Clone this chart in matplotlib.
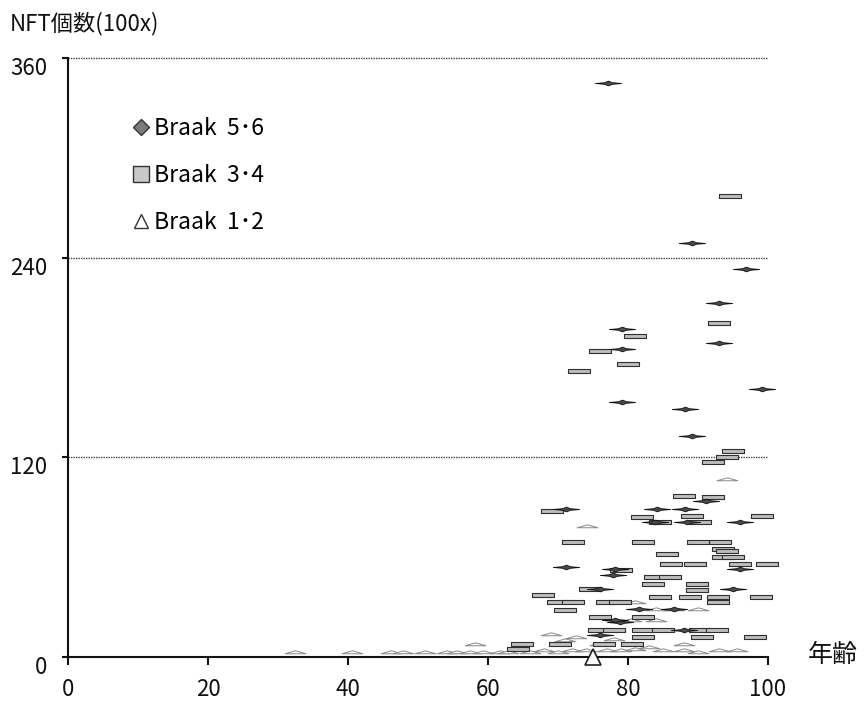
import matplotlib
matplotlib.use("Agg")
import matplotlib.pyplot as plt
from matplotlib.path import Path
from matplotlib.lines import Line2D
import matplotlib.transforms as mtransforms

plt.rcParams['font.family'] = ['Noto Sans CJK JP', 'DejaVu Sans']

# ---- data (age, NFT count /100x) ----
b56_age = [77.1, 89.1, 96.9, 93.0, 79.1, 93.0, 79.1, 99.1, 79.1, 88.1, 89.2, 91.2,
           71.2, 84.1, 88.1, 83.9, 88.4, 96.0, 71.2, 78.1, 96.0, 77.9, 76.0, 95.0,
           81.5, 86.5, 78.9, 76.0, 88.0, 78.1]
b56_nft = [345, 249, 233, 213, 197, 189, 185, 161, 153, 149, 133, 94,
           89, 89, 89, 81, 81, 81, 54, 53, 53, 49, 41, 41,
           29, 29, 21, 13, 16, 22]

b34_age = [76.0, 80.0, 73.0, 95.0, 94.1, 92.1, 69.1, 82.0, 84.5, 90.3, 93.6, 93.6,
           86.2, 89.6, 96.0, 99.8, 79.0, 83.9, 86.0, 83.6, 89.8, 74.6, 84.6, 88.9,
           92.9, 99.0, 70.0, 72.2, 77.0, 78.9, 92.9, 71.0, 76.0, 82.2, 75.8, 78.0,
           82.2, 85.0, 90.3, 92.7, 82.2, 90.5, 98.1, 70.3, 64.8, 95.0, 94.1, 89.8,
           76.5, 80.5, 64.3, 94.6, 93.0, 81.0, 92.2, 99.1, 89.1, 72.2, 82.2, 90.0,
           93.1, 67.9, 85.5, 88.0]
b34_nft = [184, 176, 172, 124, 120, 96, 88, 84, 81, 81, 65, 60,
           56, 56, 56, 56, 52, 48, 48, 44, 44, 41, 36, 36,
           36, 36, 33, 33, 33, 33, 33, 28, 24, 24, 16, 16,
           16, 16, 16, 16, 12, 12, 12, 8, 8, 60, 64, 40,
           8, 8, 5, 277, 201, 193, 117, 85, 85, 69, 69, 69,
           69, 37, 62, 97]

b12_age = [32.4, 40.5, 46.2, 47.9, 51.0, 54.1, 55.5, 57.4, 58.1, 59.3, 61.7, 62.9,
           66.0, 68.0, 70.0, 72.0, 74.0, 77.0, 79.0, 81.0, 83.0, 85.0, 88.0, 90.0,
           93.0, 95.5, 69.0, 71.0, 72.5, 74.1, 94.1, 84.0, 86.6, 90.0, 80.4, 84.0,
           78.0, 81.0, 76.0, 88.0]
b12_nft = [3, 3, 3, 3, 3, 3, 3, 3, 8, 3, 3, 3,
           3, 4, 3, 4, 4, 4, 4, 5, 6, 4, 4, 3,
           4, 4, 14, 10, 12, 79, 107, 29, 29, 29, 22, 22,
           11, 33, 8, 8]

highlight_age = [75.0]
highlight_nft = [0]

# ---- markers (horizontally stretched, like the scanned original) ----
diamond_path = Path([(-1, 0), (-0.3, 0.06), (0, 0.18), (0.3, 0.06), (1, 0),
                     (0.3, -0.06), (0, -0.18), (-0.3, -0.06), (-1, 0)], closed=True)
square_path = Path([(-1, -0.16), (1, -0.16), (1, 0.16), (-1, 0.16), (-1, -0.16)], closed=True)
tri_path = Path([(-1, -0.12), (1, -0.12), (0, 0.16), (-1, -0.12)], closed=True)

W, H = 867, 708
fig = plt.figure(figsize=(W / 100, H / 100), dpi=100)
ax = fig.add_axes([68 / W, 1 - 657 / H, 700 / W, 599 / H])

ax.set_xlim(0, 100)
ax.set_ylim(0, 360)

for yv in [120, 240, 360]:
    ax.axhline(yv, color='#444444', lw=1.0, ls=(0, (1, 0.8)), clip_on=False, zorder=1)

ax.plot(b12_age, b12_nft, ls='none', marker=tri_path, ms=15, mfc='white',
        mec='#8a8a8a', mew=0.7, zorder=3, clip_on=False)
ax.plot(b34_age, b34_nft, ls='none', marker=square_path, ms=16, mfc='#bdbdbd',
        mec='#303030', mew=0.8, zorder=4, clip_on=False)
ax.plot(b56_age, b56_nft, ls='none', marker=diamond_path, ms=19, mfc='#4a4a4a',
        mec='#111111', mew=0.6, zorder=5, clip_on=False)
ax.plot(highlight_age, highlight_nft, ls='none', marker='^', ms=12, mfc='white',
        mec='#222222', mew=1.2, zorder=6, clip_on=False)

for s in ['top', 'right']:
    ax.spines[s].set_visible(False)
for s in ['left', 'bottom']:
    ax.spines[s].set_linewidth(1.5)
    ax.spines[s].set_color('#111111')
    ax.spines[s].set_zorder(2)

ax.set_xticks([0, 20, 40, 60, 80, 100])
ax.set_yticks([0, 120, 240, 360])
ax.tick_params(axis='x', direction='out', length=6, width=1.5, pad=9, labelsize=16, colors='#111111')
ax.tick_params(axis='y', direction='out', length=4, width=1.5, pad=11, labelsize=16, colors='#111111')
offset = mtransforms.ScaledTranslation(0, -8 / 100, fig.dpi_scale_trans)
for lab in ax.get_yticklabels():
    lab.set_transform(lab.get_transform() + offset)

fig.text(10 / W, 1 - 24 / H, 'NFT個数(100x)', fontsize=16, ha='left', va='center', color='#111111')
fig.text(808 / W, 1 - 655 / H, '年齢', fontsize=18, ha='left', va='center', color='#111111')

# legend
handles = [
    Line2D([], [], ls='none', marker='D', ms=8, mfc='#7a7a7a', mec='#333333', mew=1.0),
    Line2D([], [], ls='none', marker='s', ms=11, mfc='#c8c8c8', mec='#333333', mew=1.0),
    Line2D([], [], ls='none', marker='^', ms=10, mfc='white', mec='#333333', mew=1.0),
]
labels = ['Braak  5･6', 'Braak  3･4', 'Braak  1･2']
leg = ax.legend(handles, labels, loc='upper left', bbox_to_anchor=((125 - 68) / 700, (657 - 108) / 599),
                frameon=False, fontsize=16.5, handlelength=0.6, handletextpad=0.25,
                labelspacing=1.05, borderaxespad=0)

fig.savefig('out.png', dpi=100)
